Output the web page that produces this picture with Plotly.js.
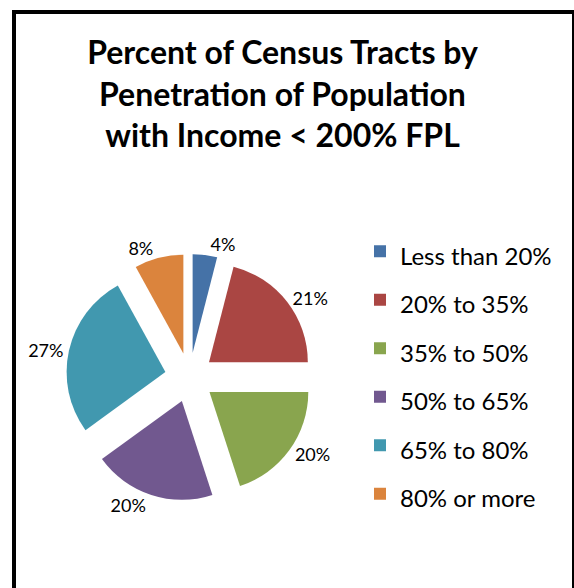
<!DOCTYPE html>
<html>
<head>
<meta charset="utf-8">
<script src="https://cdn.plot.ly/plotly-3.0.1.min.js"></script>
<style>
  html, body { margin: 0; padding: 0; background: #ffffff; }
  #chart { width: 574px; height: 588px; }
</style>
</head>
<body>
<div id="chart"></div>
<script>
// Data
const categories = ["Less than 20%", "20% to 35%", "35% to 50%", "50% to 65%", "65% to 80%", "80% or more"];
const percentValues = [4, 21, 20, 20, 27, 8];
const sliceColors = ["#4572A7", "#AA4643", "#89A54E", "#71588F", "#4198AF", "#DB843D"];
const titleLines = ["Percent of Census Tracts by", "Penetration of Population", "with Income &lt; 200% FPL"];

const W = 574, H = 588;

const legendLabels = categories.map(c => '<span style="font-size:24px">' + c + '</span>');

const trace = {
  type: "pie",
  labels: legendLabels,
  values: percentValues,
  sort: false,
  direction: "clockwise",
  rotation: 0,
  pull: percentValues.map(() => 0.25),
  marker: { colors: sliceColors, line: { width: 0 } },
  textinfo: "percent",
  textposition: "outside",
  textfont: { family: "Lato, 'DejaVu Sans', sans-serif", size: 18, color: "#000000" },
  outsidetextfont: { family: "Lato, 'DejaVu Sans', sans-serif", size: 18, color: "#000000" },
  domain: { x: [66 / W, 313 / W], y: [1 - 501 / H, 1 - 254 / H] },
  hoverinfo: "label+percent",
  automargin: false
};

const layout = {
  width: W,
  height: H,
  margin: { l: 0, r: 0, t: 0, b: 0, pad: 0 },
  paper_bgcolor: "#ffffff",
  plot_bgcolor: "#ffffff",
  font: { family: "Lato, 'DejaVu Sans', sans-serif", color: "#000000" },
  title: {
    text: titleLines.join("<br>"),
    font: { family: "Lato, 'DejaVu Sans', sans-serif", size: 32, color: "#000000", weight: "bold" },
    x: 282.5 / W,
    xref: "container",
    xanchor: "center",
    y: 1 - 64 / H,
    yref: "container",
    yanchor: "top"
  },
  showlegend: true,
  legend: {
    x: 360 / W,
    xanchor: "left",
    y: 1 - 222 / H,
    yanchor: "top",
    font: { family: "Lato, 'DejaVu Sans', sans-serif", size: 35, color: "#000000" },
    bgcolor: "rgba(0,0,0,0)",
    borderwidth: 0,
    traceorder: "normal"
  },
  shapes: [{
    type: "rect",
    xref: "paper", yref: "paper",
    x0: 14 / W, x1: 1.0,
    y0: -0.1, y1: 1 - 12 / H,
    line: { color: "#000000", width: 4 },
    fillcolor: "rgba(0,0,0,0)",
    layer: "above"
  }]
};

Plotly.newPlot("chart", [trace], layout, { displayModeBar: false, staticPlot: true });
</script>
</body>
</html>
